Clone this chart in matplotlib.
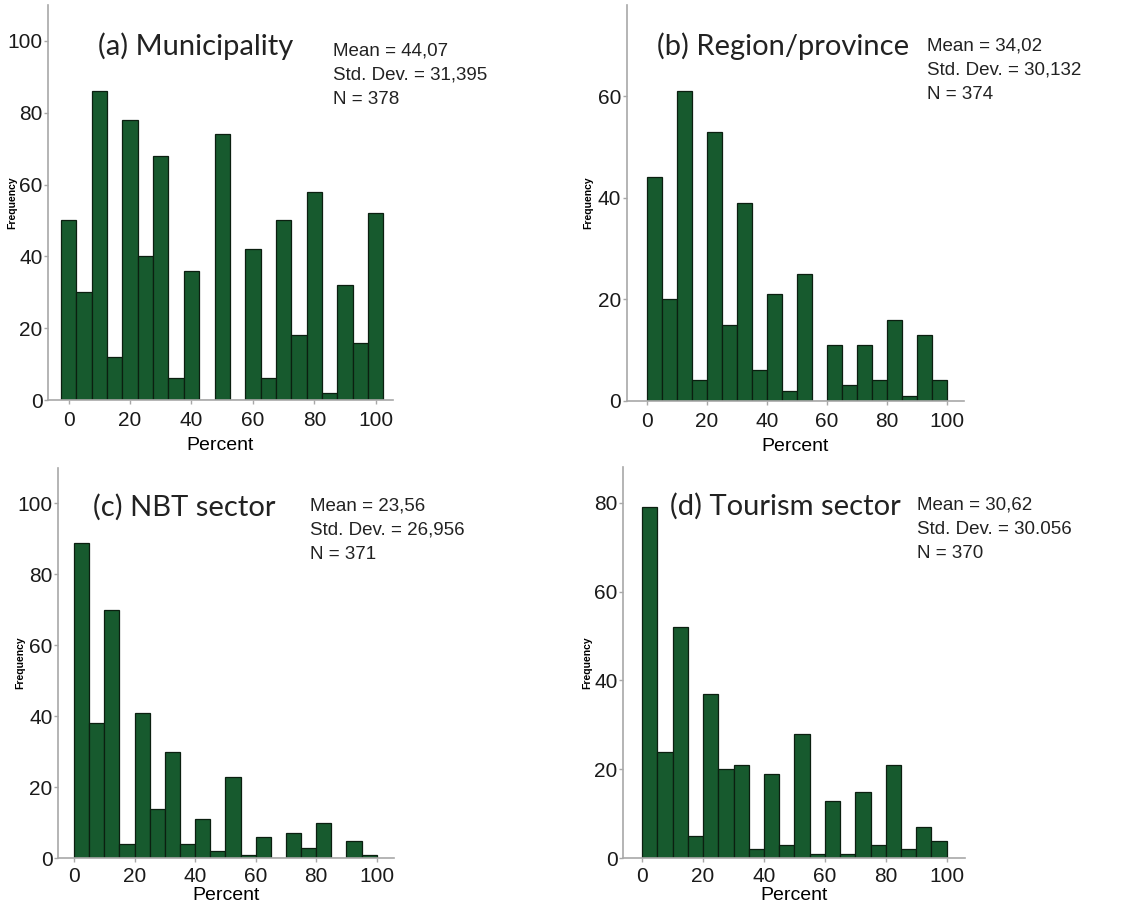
import numpy as np
import matplotlib.pyplot as plt
from matplotlib import font_manager

# bin counts (bins of width 5)
mun_counts = [50, 30, 86, 12, 78, 40, 68, 6, 36, 0, 74, 0, 42, 6, 50, 18, 58, 2, 32, 16, 52]
reg_counts = [44, 20, 61, 4, 53, 15, 39, 6, 21, 2, 25, 0, 11, 3, 11, 4, 16, 1, 13, 4]
nbt_counts = [89, 38, 70, 4, 41, 14, 30, 4, 11, 2, 23, 1, 6, 0, 7, 3, 10, 0, 5, 1]
tou_counts = [79, 24, 52, 5, 37, 20, 21, 2, 19, 3, 28, 1, 13, 1, 15, 3, 21, 2, 7, 4]

titles = ["(a) Municipality", "(b) Region/province", "(c) NBT sector", "(d) Tourism sector"]
stats = [("44,07", "31,395", "378"), ("34,02", "30,132", "374"),
         ("23,56", "26,956", "371"), ("30,62", "30.056", "370")]
yticks = [[0, 20, 40, 60, 80, 100], [0, 20, 40, 60], [0, 20, 40, 60, 80, 100], [0, 20, 40, 60, 80]]
xticks = [0, 20, 40, 60, 80, 100]

names = {f.name for f in font_manager.fontManager.ttflist}
narrow = "Liberation Sans Narrow" if "Liberation Sans Narrow" in names else "Liberation Sans"
title_font = "Lato" if "Lato" in names else "DejaVu Sans"

green = "#175a2e"
spine_c = "#a8a8a8"

fig = plt.figure(figsize=(11.21, 9.10), dpi=100)

# axes boxes in figure fractions
boxes = [
    [0.0428, 0.5604, 0.3078, 0.4341],
    [0.5590, 0.5597, 0.3010, 0.4348],
    [0.0517, 0.0568, 0.2998, 0.4289],
    [0.5560, 0.0568, 0.3048, 0.4300],
]
ylims = [110, 78, 110, 88]
xlims = [(-6.7, 105.6), (-6.8, 105.7), (-5.3, 105.7), (-6.2, 106.0)]
ylab_x = [-0.09, -0.10, -0.098, -0.092]
title_pos = [(0.145, 0.895), (0.09, 0.895), (0.104, 0.90), (0.137, 0.90)]
stats_pos = [(0.826, 0.905), (0.889, 0.918), (0.75, 0.925), (0.859, 0.925)]
xlab_pad = [5, 5, 1, 1]

counts_all = [mun_counts, reg_counts, nbt_counts, tou_counts]
for i, counts in enumerate(counts_all):
    ax = fig.add_axes(boxes[i])
    n = len(counts)
    if n == 21:
        edges = np.arange(n + 1) * 5 - 2.5
    else:
        edges = np.arange(n + 1) * 5.0
    ax.bar(edges[:-1], counts, width=5, align="edge", color=green,
           edgecolor="#0b1f10", linewidth=0.9)
    ax.set_xlim(*xlims[i])
    ax.set_ylim(0, ylims[i])
    for s in ["top", "right"]:
        ax.spines[s].set_visible(False)
    for s in ["left", "bottom"]:
        ax.spines[s].set_color(spine_c)
        ax.spines[s].set_linewidth(1.2)
    ax.set_yticks(yticks[i])
    ax.set_xticks(xticks)
    ax.tick_params(axis="both", colors=spine_c, labelcolor="#1a1a1a", length=3, width=1)
    ax.tick_params(axis="y", pad=1)
    ax.tick_params(axis="x", pad=5 if i < 2 else 3)
    for lab in ax.get_xticklabels() + ax.get_yticklabels():
        lab.set_fontfamily(narrow)
        lab.set_fontsize(15)
    ax.set_xlabel("Percent", fontfamily=narrow, fontsize=14, labelpad=xlab_pad[i])
    ax.set_ylabel("Frequency", fontfamily="Liberation Sans", fontsize=7.5, fontweight="bold")
    ax.yaxis.set_label_coords(ylab_x[i], 0.5)
    tx, ty = title_pos[i]
    ax.text(tx, ty, titles[i], transform=ax.transAxes, fontfamily=title_font,
            fontsize=21, ha="left", va="center", color="#222222")
    m, sd, nn = stats[i]
    sx, sy = stats_pos[i]
    ax.text(sx, sy, f"Mean = {m}\nStd. Dev. = {sd}\nN = {nn}",
            transform=ax.transAxes, fontfamily=narrow, fontsize=13.5,
            ha="left", va="top", linespacing=1.55, color="#222222")

fig.savefig("out.png", dpi=100)
